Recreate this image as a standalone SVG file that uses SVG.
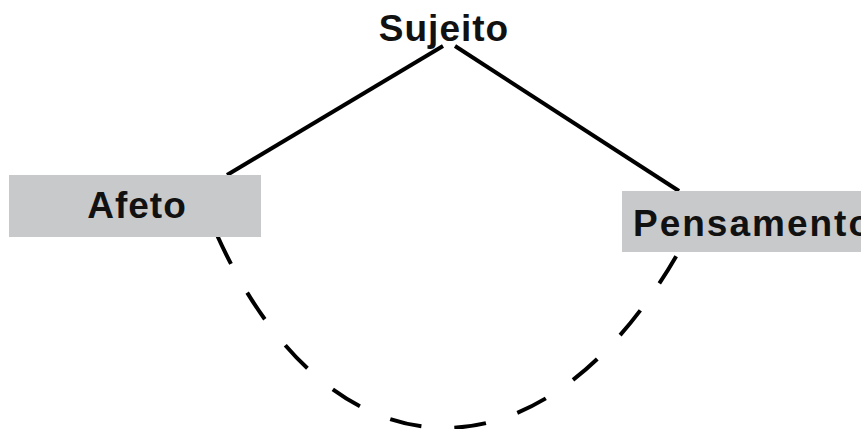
<svg xmlns="http://www.w3.org/2000/svg" width="861" height="429" viewBox="0 0 861 429">
<style>
.lbl{font-family:"Liberation Sans",Arial,sans-serif;font-weight:bold;font-size:37px;letter-spacing:1px;fill:#111;text-anchor:middle}
.box{fill:#c8c9cb}
.ln{stroke:#000;stroke-width:4;fill:none}
.dash{stroke-dasharray:32 33}
</style>
<rect width="861" height="429" fill="#fff"/>
<g id="connectors">
<line class="ln" x1="443" y1="46" x2="227" y2="175"/>
<line class="ln" x1="455" y1="46" x2="679" y2="191"/>
<path class="ln dash" d="M217 235 C329 484 540 494 678 253"/>
</g>
<g id="sujeito">
<text class="lbl" x="444" y="41">Sujeito</text>
</g>
<g id="afeto">
<rect class="box" x="9" y="175" width="252" height="62"/>
<text class="lbl" x="137" y="218">Afeto</text>
</g>
<g id="pensamento">
<rect class="box" x="622" y="191" width="252" height="61"/>
<text class="lbl" x="633" y="236" style="text-anchor:start;letter-spacing:2px">Pensamento</text>
</g>
</svg>
